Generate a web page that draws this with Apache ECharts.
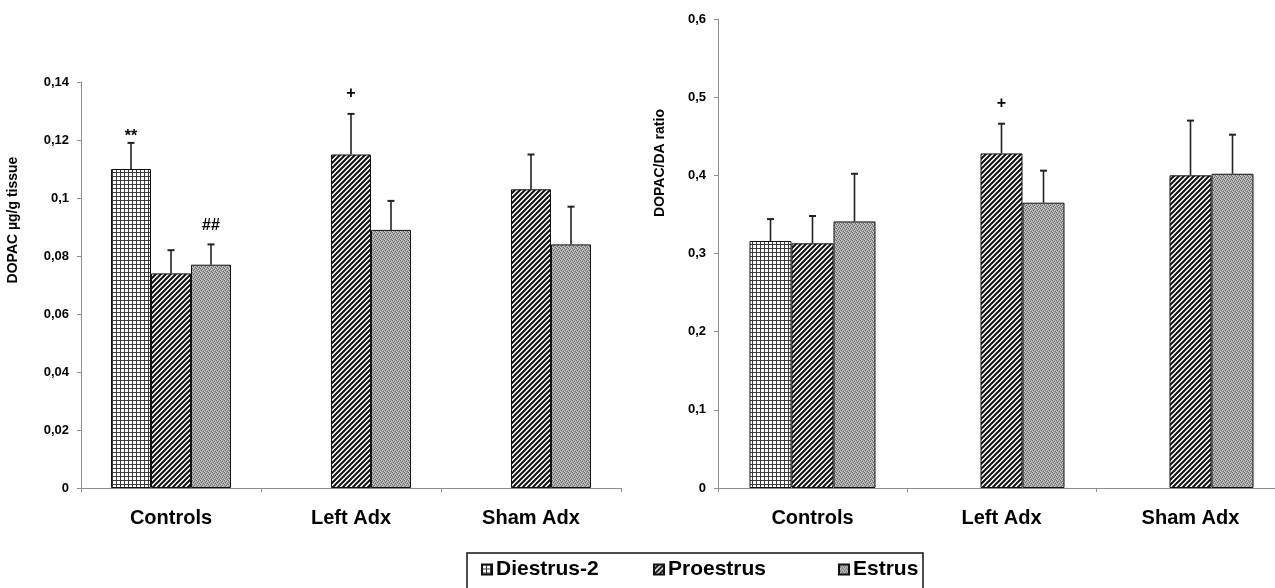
<!DOCTYPE html>
<html>
<head>
<meta charset="utf-8">
<script src="https://cdn.jsdelivr.net/npm/echarts@6/dist/echarts.min.js"></script>
<style>
html,body{margin:0;padding:0;background:#fff;overflow:hidden;width:1275px;height:588px;}
#chart{width:1300px;height:588px;}
</style>
</head>
<body>
<div id="chart"></div>
<script>
// ---------- DATA ----------
const categories = ['Controls', 'Left Adx', 'Sham Adx'];
const phases = ['Diestrus-2', 'Proestrus', 'Estrus'];

// Left panel: DOPAC µg/g tissue
const dopacDiestrus = [0.110, null, null];
const dopacDiestrusErr = [0.009, null, null];
const dopacProestrus = [0.074, 0.115, 0.103];
const dopacProestrusErr = [0.008, 0.014, 0.012];
const dopacEstrus = [0.077, 0.089, 0.084];
const dopacEstrusErr = [0.007, 0.010, 0.013];
const dopacDiestrusMark = ['**', '', ''];
const dopacProestrusMark = ['', '+', ''];
const dopacEstrusMark = ['##', '', ''];

// Right panel: DOPAC/DA ratio
const ratioDiestrus = [0.316, null, null];
const ratioDiestrusErr = [0.028, null, null];
const ratioProestrus = [0.313, 0.428, 0.400];
const ratioProestrusErr = [0.035, 0.038, 0.070];
const ratioEstrus = [0.341, 0.365, 0.402];
const ratioEstrusErr = [0.061, 0.041, 0.050];
const ratioDiestrusMark = ['', '', ''];
const ratioProestrusMark = ['', '+', ''];
const ratioEstrusMark = ['', '', ''];

const dopacAxis = {min: 0, max: 0.14, interval: 0.02, name: 'DOPAC µg/g tissue'};
const ratioAxis = {min: 0, max: 0.6, interval: 0.1, name: 'DOPAC/DA ratio'};

// ---------- PATTERNS ----------
function makeCanvas(n, draw) {
  const c = document.createElement('canvas');
  c.width = n; c.height = n;
  draw(c.getContext('2d'), n);
  return c;
}
const gridPattern = makeCanvas(4, (ctx, n) => {
  ctx.fillStyle = '#ffffff'; ctx.fillRect(0, 0, n, n);
  ctx.fillStyle = '#3a3a3a';
  ctx.fillRect(0, 0, n, 1);
  ctx.fillRect(0, 0, 1, n);
});
const hatchPattern = makeCanvas(5, (ctx, n) => {
  ctx.fillStyle = '#ffffff'; ctx.fillRect(0, 0, n, n);
  ctx.strokeStyle = '#111111'; ctx.lineWidth = 2;
  ctx.beginPath();
  ctx.moveTo(-1, n + 1); ctx.lineTo(n + 1, -1);
  ctx.moveTo(-2, 2); ctx.lineTo(2, -2);
  ctx.moveTo(n - 2, n + 2); ctx.lineTo(n + 2, n - 2);
  ctx.stroke();
});
const dotPattern = makeCanvas(4, (ctx, n) => {
  ctx.fillStyle = '#a2a2a2'; ctx.fillRect(0, 0, n, n);
  const dark = [[0,0],[2,1],[1,2],[3,3]];
  const light = [[1,0],[3,1],[0,3],[2,2]];
  ctx.fillStyle = '#6a6a6a'; dark.forEach(p => ctx.fillRect(p[0], p[1], 1, 1));
  ctx.fillStyle = '#cfcfcf'; light.forEach(p => ctx.fillRect(p[0], p[1], 1, 1));
});
const patterns = [gridPattern, hatchPattern, dotPattern];

// ---------- BUILD ----------
const FONT = 'Liberation Sans, Arial, sans-serif';
const chart = echarts.init(document.getElementById('chart'));

const panels = [
  {grid: {left: 81, top: 82, width: 540, height: 406}, axis: dopacAxis, barWidth: 40,
   vals: [dopacDiestrus, dopacProestrus, dopacEstrus],
   errs: [dopacDiestrusErr, dopacProestrusErr, dopacEstrusErr],
   marks: [dopacDiestrusMark, dopacProestrusMark, dopacEstrusMark]},
  {grid: {left: 718, top: 19, width: 567, height: 469}, axis: ratioAxis, barWidth: 42,
   vals: [ratioDiestrus, ratioProestrus, ratioEstrus],
   errs: [ratioDiestrusErr, ratioProestrusErr, ratioEstrusErr],
   marks: [ratioDiestrusMark, ratioProestrusMark, ratioEstrusMark]}
];

function fmt(v) {
  return parseFloat(v.toFixed(3)).toString().replace('.', ',');
}

const markOffset = {'**': 6, '##': 19, '+': 20};

const grids = [], xAxes = [], yAxes = [], series = [];
panels.forEach((p, gi) => {
  grids.push(p.grid);
  xAxes.push({
    type: 'category', gridIndex: gi, data: categories,
    axisLine: {lineStyle: {color: '#8c8c8c', width: 1}},
    axisTick: {show: true, length: 4, lineStyle: {color: '#8c8c8c'}},
    axisLabel: {color: '#000', fontFamily: FONT, fontWeight: 'bold', fontSize: 20, margin: 20}
  });
  yAxes.push({
    type: 'value', gridIndex: gi, min: p.axis.min, max: p.axis.max, interval: p.axis.interval,
    splitLine: {show: false},
    axisLine: {show: true, lineStyle: {color: '#8c8c8c', width: 1}},
    axisTick: {show: true, length: 4, lineStyle: {color: '#8c8c8c'}},
    axisLabel: {color: '#000', fontFamily: FONT, fontWeight: 'bold', fontSize: 13, margin: 12,
      formatter: fmt}
  });
  phases.forEach((ph, si) => {
    series.push({
      type: 'bar', name: ph, xAxisIndex: gi, yAxisIndex: gi,
      data: p.vals[si], barWidth: p.barWidth, barGap: '0%',
      itemStyle: {color: {image: patterns[si], repeat: 'repeat'}, borderColor: '#111', borderWidth: 1},
      emphasis: {disabled: true}, animation: false
    });
  });
  phases.forEach((ph, si) => {
    const vals = p.vals[si], errs = p.errs[si], marks = p.marks[si];
    const data = [];
    vals.forEach((v, i) => { if (v != null) data.push([i, v, errs[i]]); });
    const offset = (si - 1) * p.barWidth;
    series.push({
      type: 'custom', xAxisIndex: gi, yAxisIndex: gi, z: 5, animation: false, silent: true,
      data: data,
      renderItem: function (params, api) {
        const i = api.value(0), v = api.value(1), e = api.value(2);
        const b = api.coord([i, v]);
        const t = api.coord([i, v + e]);
        const x = b[0] + offset;
        const children = [
          {type: 'line', shape: {x1: x, y1: b[1], x2: x, y2: t[1]}, style: {stroke: '#222', lineWidth: 1.6}},
          {type: 'line', shape: {x1: x - 3.5, y1: t[1], x2: x + 3.5, y2: t[1]}, style: {stroke: '#222', lineWidth: 2}}
        ];
        const m = marks[i];
        if (m) {
          children.push({type: 'text', style: {
            text: m, x: x, y: t[1] - (markOffset[m] || 18),
            textAlign: 'center', textVerticalAlign: 'middle', verticalAlign: 'middle', align: 'center',
            font: 'bold 16px ' + FONT, fill: '#000'
          }});
        }
        return {type: 'group', children: children};
      }
    });
  });
});

const legendX = [481, 653, 838];
const legends = phases.map((ph, k) => ({
  data: [ph], left: legendX[k], top: 559, padding: 0,
  itemWidth: 10, itemHeight: 10, itemGap: 5, icon: 'rect', selectedMode: false,
  textStyle: {color: '#000', fontFamily: FONT, fontWeight: 'bold', fontSize: 21, padding: [0, 0, 0, -1]}
}));

chart.setOption({
  animation: false,
  backgroundColor: '#fff',
  grid: grids, xAxis: xAxes, yAxis: yAxes, series: series,
  legend: legends,
  graphic: [
    {type: 'rect', shape: {x: 467, y: 553, width: 456, height: 45}, style: {fill: 'none', stroke: '#111', lineWidth: 1.5}, silent: true},
    {type: 'text', x: 13, y: 220, rotation: Math.PI / 2, silent: true,
     style: {text: dopacAxis.name, font: 'bold 14px ' + FONT, fill: '#000', textAlign: 'center', textVerticalAlign: 'middle', align: 'center', verticalAlign: 'middle'}},
    {type: 'text', x: 660, y: 163, rotation: Math.PI / 2, silent: true,
     style: {text: ratioAxis.name, font: 'bold 14px ' + FONT, fill: '#000', textAlign: 'center', textVerticalAlign: 'middle', align: 'center', verticalAlign: 'middle'}}
  ]
});
</script>
</body>
</html>
